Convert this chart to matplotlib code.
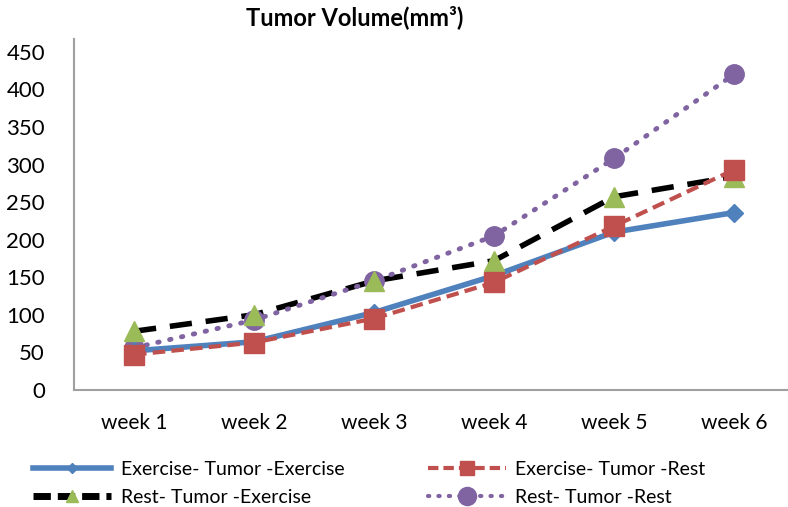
import matplotlib.pyplot as plt
from matplotlib.lines import Line2D

plt.rcParams['font.family'] = ['Lato', 'DejaVu Sans']

weeks = ["week 1", "week 2", "week 3", "week 4", "week 5", "week 6"]
ex_tumor_ex = [52, 64, 103, 152, 210, 236]
ex_tumor_rest = [47, 63, 95, 143, 218, 293]
rest_tumor_ex = [78, 100, 145, 172, 257, 284]
rest_tumor_rest = [56, 93, 145, 205, 308, 420]
yticks = [0, 50, 100, 150, 200, 250, 300, 350, 400, 450]

fig = plt.figure(figsize=(7.88, 5.07), dpi=100)
ax = fig.add_axes([0.094, 0.231, 0.906, 0.692])
x = list(range(len(weeks)))

l_black, = ax.plot(x, rest_tumor_ex, color="black", lw=4, dashes=(4, 2.5), zorder=2,
                   label="Rest- Tumor -Exercise")
ax.plot(x, rest_tumor_ex, ls="none", marker="^", ms=14, color="#9BBB59", zorder=5)
l_purple, = ax.plot(x, rest_tumor_rest, color="#8064A2", lw=3.5, ls=(0, (0.3, 2.2)),
                    dash_capstyle="round", marker="o", ms=14, zorder=3,
                    label="Rest- Tumor -Rest")
l_blue, = ax.plot(x, ex_tumor_ex, color="#4F81BD", lw=4, marker="D", ms=9, zorder=4,
                  label="Exercise- Tumor -Exercise")
l_red, = ax.plot(x, ex_tumor_rest, color="#C0504D", lw=3, dashes=(3, 1.5), marker="s",
                 ms=14, zorder=6, label="Exercise- Tumor -Rest")

ax.set_xlim(-0.5, 5.45)
ax.set_ylim(0, 467)
ax.set_xticks(x)
ax.set_xticklabels(weeks, fontsize=15)
ax.set_yticks(yticks)
ax.set_yticklabels([str(v) for v in yticks], fontsize=16)
ax.tick_params(length=0)
ax.tick_params(axis="x", pad=17)
ax.tick_params(axis="y", pad=21)
for s in ["top", "right"]:
    ax.spines[s].set_visible(False)
for s in ["left", "bottom"]:
    ax.spines[s].set_color("#A0A0A0")
    ax.spines[s].set_linewidth(1.5)

fig.text(0.45, 0.99, "Tumor Volume(mm³)", ha="center", va="top", fontsize=17, fontweight="bold")

h_blue = Line2D([], [], color="#4F81BD", lw=4, marker="D", ms=5)
h_red = Line2D([], [], color="#C0504D", lw=3, dashes=(2.5, 1.2), marker="s", ms=10)
h_black = Line2D([], [], color="black", lw=5, dashes=(2.5, 1), marker="^", ms=8,
                 markerfacecolor="#9BBB59", markeredgecolor="#9BBB59")
h_purple = Line2D([], [], color="#8064A2", lw=3, ls=(0, (0.3, 2.2)), marker="o", ms=13,
                  dash_capstyle="round")
fig.legend([h_blue, h_black, h_red, h_purple],
           ["Exercise- Tumor -Exercise", "Rest- Tumor -Exercise",
            "Exercise- Tumor -Rest", "Rest- Tumor -Rest"],
           ncol=2, loc="lower left", bbox_to_anchor=(0.02, -0.032), frameon=False,
           fontsize=14, handlelength=4, handletextpad=0.5, columnspacing=4.3,
           labelspacing=0.55, numpoints=1)

fig.savefig("out.png", dpi=100)
